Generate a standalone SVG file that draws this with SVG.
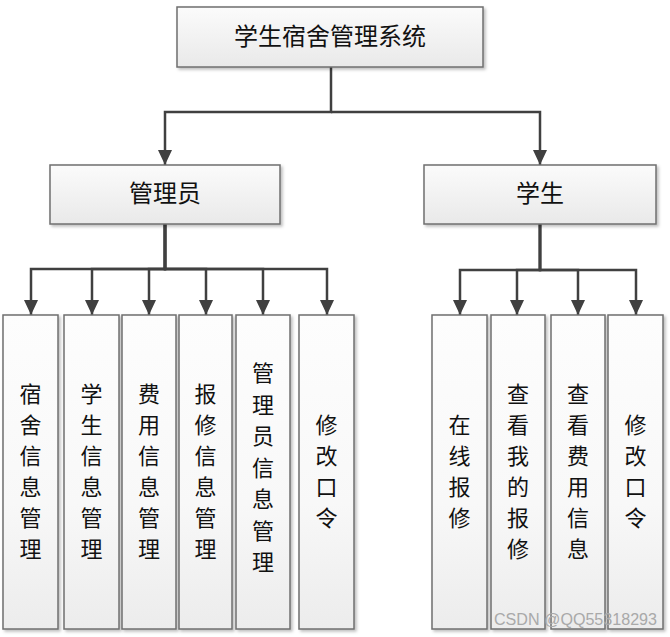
<svg xmlns="http://www.w3.org/2000/svg" width="670" height="637" viewBox="0 0 670 637">
<defs>
<linearGradient id="gTop" x1="0" y1="0" x2="0" y2="1">
<stop offset="0" stop-color="#fbfbfb"/>
<stop offset="1" stop-color="#e9e9e9"/>
</linearGradient>
<linearGradient id="gChild" x1="0" y1="0" x2="0" y2="1">
<stop offset="0" stop-color="#fdfdfd"/>
<stop offset="0.6" stop-color="#f8f8f8"/>
<stop offset="1" stop-color="#ececec"/>
</linearGradient>
<filter id="shadow" x="-10%" y="-10%" width="130%" height="130%">
<feDropShadow dx="2" dy="2" stdDeviation="1.5" flood-color="#000" flood-opacity="0.25"/>
</filter>
<marker id="arrow" markerUnits="userSpaceOnUse" markerWidth="15" markerHeight="14" refX="15" refY="7" orient="auto">
<path d="M0,0 L15,7 L0,14 z" fill="#404040"/>
</marker>
<style>
.box{stroke:#6f6f6f;stroke-width:1.5;filter:url(#shadow)}
.top{fill:url(#gTop)}
.child{fill:url(#gChild)}
.t{font-family:"Noto Sans CJK SC","Noto Sans CJK TC",sans-serif;fill:#111;text-anchor:middle}
.big{font-size:24px}
.v{font-size:22px}
.conn path{fill:none;stroke:#404040;stroke-width:2.5;marker-end:url(#arrow)}
.wm{font-family:"Liberation Sans",Arial,sans-serif;font-size:16px;fill:#a9a9a9}
</style>
</defs>
<rect width="670" height="637" fill="#ffffff"/>

<g id="connectors" class="conn">
<path d="M331 67 V112 H165 V165"/>
<path d="M331 112 H540 V165"/>
<path d="M165 224 V269 H31 V315"/>
<path d="M165 224 V269 H92 V315"/>
<path d="M165 224 V269 H149 V315"/>
<path d="M165 224 V269 H206 V315"/>
<path d="M165 224 V269 H263 V315"/>
<path d="M165 224 V269 H327 V315"/>
<path d="M540 224 V270 H460 V315"/>
<path d="M540 224 V270 H517 V315"/>
<path d="M540 224 V270 H578 V315"/>
<path d="M540 224 V270 H636 V315"/>
</g>

<g id="root">
<rect class="box top" x="177" y="7" width="306" height="60"/>
<text class="t big" x="330" y="45">学生宿舍管理系统</text>
</g>

<g id="admin">
<rect class="box top" x="50" y="165" width="230" height="59"/>
<text class="t big" x="165" y="202">管理员</text>
</g>

<g id="student">
<rect class="box top" x="424" y="165" width="232" height="59"/>
<text class="t big" x="540" y="202">学生</text>
</g>

<g id="a1">
<rect class="box child" x="3" y="315" width="55" height="314"/>
<text class="t v" x="30.5" y="402"><tspan x="30.5">宿</tspan><tspan x="30.5" dy="31">舍</tspan><tspan x="30.5" dy="31">信</tspan><tspan x="30.5" dy="31">息</tspan><tspan x="30.5" dy="31">管</tspan><tspan x="30.5" dy="31">理</tspan></text>
</g>
<g id="a2">
<rect class="box child" x="64" y="315" width="55" height="314"/>
<text class="t v" x="91.5" y="402"><tspan x="91.5">学</tspan><tspan x="91.5" dy="31">生</tspan><tspan x="91.5" dy="31">信</tspan><tspan x="91.5" dy="31">息</tspan><tspan x="91.5" dy="31">管</tspan><tspan x="91.5" dy="31">理</tspan></text>
</g>
<g id="a3">
<rect class="box child" x="122" y="315" width="54" height="314"/>
<text class="t v" x="149" y="402"><tspan x="149">费</tspan><tspan x="149" dy="31">用</tspan><tspan x="149" dy="31">信</tspan><tspan x="149" dy="31">息</tspan><tspan x="149" dy="31">管</tspan><tspan x="149" dy="31">理</tspan></text>
</g>
<g id="a4">
<rect class="box child" x="179" y="315" width="53" height="314"/>
<text class="t v" x="205.5" y="402"><tspan x="205.5">报</tspan><tspan x="205.5" dy="31">修</tspan><tspan x="205.5" dy="31">信</tspan><tspan x="205.5" dy="31">息</tspan><tspan x="205.5" dy="31">管</tspan><tspan x="205.5" dy="31">理</tspan></text>
</g>
<g id="a5">
<rect class="box child" x="236" y="315" width="54" height="314"/>
<text class="t v" x="263" y="381"><tspan x="263">管</tspan><tspan x="263" dy="31.5">理</tspan><tspan x="263" dy="31.5">员</tspan><tspan x="263" dy="31.5">信</tspan><tspan x="263" dy="31.5">息</tspan><tspan x="263" dy="31.5">管</tspan><tspan x="263" dy="31.5">理</tspan></text>
</g>
<g id="a6">
<rect class="box child" x="299" y="315" width="55" height="314"/>
<text class="t v" x="326.5" y="433"><tspan x="326.5">修</tspan><tspan x="326.5" dy="31">改</tspan><tspan x="326.5" dy="31">口</tspan><tspan x="326.5" dy="31">令</tspan></text>
</g>

<g id="s1">
<rect class="box child" x="432" y="315" width="55" height="314"/>
<text class="t v" x="459.5" y="433"><tspan x="459.5">在</tspan><tspan x="459.5" dy="31">线</tspan><tspan x="459.5" dy="31">报</tspan><tspan x="459.5" dy="31">修</tspan></text>
</g>
<g id="s2">
<rect class="box child" x="491" y="315" width="54" height="314"/>
<text class="t v" x="518" y="402"><tspan x="518">查</tspan><tspan x="518" dy="31">看</tspan><tspan x="518" dy="31">我</tspan><tspan x="518" dy="31">的</tspan><tspan x="518" dy="31">报</tspan><tspan x="518" dy="31">修</tspan></text>
</g>
<g id="s3">
<rect class="box child" x="551" y="315" width="54" height="314"/>
<text class="t v" x="578" y="402"><tspan x="578">查</tspan><tspan x="578" dy="31">看</tspan><tspan x="578" dy="31">费</tspan><tspan x="578" dy="31">用</tspan><tspan x="578" dy="31">信</tspan><tspan x="578" dy="31">息</tspan></text>
</g>
<g id="s4">
<rect class="box child" x="608" y="315" width="55" height="314"/>
<text class="t v" x="635.5" y="433"><tspan x="635.5">修</tspan><tspan x="635.5" dy="31">改</tspan><tspan x="635.5" dy="31">口</tspan><tspan x="635.5" dy="31">令</tspan></text>
</g>

<text class="wm" x="494" y="625" textLength="163" lengthAdjust="spacingAndGlyphs">CSDN @QQ55318293</text>
</svg>
